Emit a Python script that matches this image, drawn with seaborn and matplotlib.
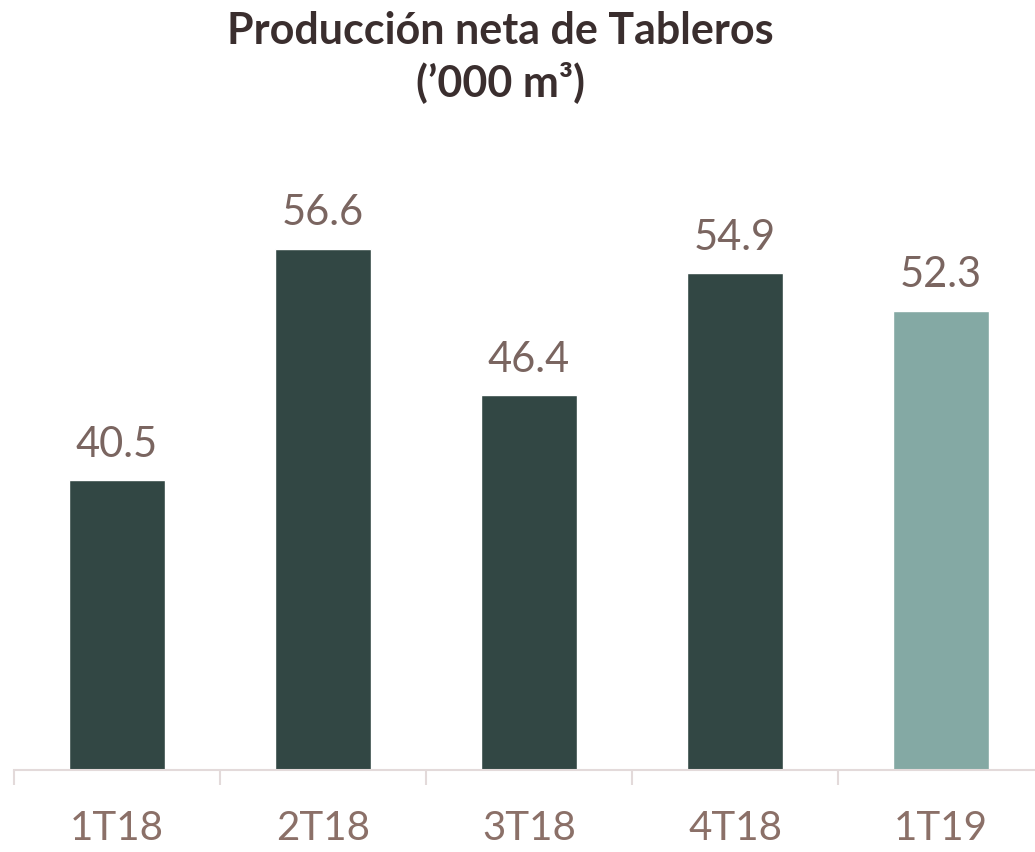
import matplotlib
matplotlib.use("Agg")
import matplotlib.pyplot as plt
import seaborn as sns
import pandas as pd

categories = ["1T18", "2T18", "3T18", "4T18", "1T19"]
values = [40.5, 56.6, 46.4, 54.9, 52.3]
bar_colors = ["#324744", "#324744", "#324744", "#324744", "#84a9a4"]
title = "Producción neta de Tableros\n(’000 m³)"

sns.set_theme(style="white")
plt.rcParams['font.family'] = ['Lato', 'DejaVu Sans']

df = pd.DataFrame({"cat": categories, "val": values})

fig = plt.figure(figsize=(10.35, 8.52), dpi=100)
W, H = 1035, 852
ax = fig.add_axes([14 / W, 82 / H, 1030 / W, (770 - 150) / H])

sns.barplot(data=df, x="cat", y="val", hue="cat", palette=bar_colors,
            legend=False, width=0.47, ax=ax, saturation=1)

ax.set_ylim(20.3, 20.3 + (770 - 150) / 14.35)
ax.set_xlim(-0.5, 4.5)

for i, v in enumerate(values):
    ax.annotate(f"{v:.1f}", (i, v), xytext=(0, 17), textcoords="offset points",
                ha="center", va="baseline", fontsize=30, color="#7a6560")

for s in ["top", "right", "left"]:
    ax.spines[s].set_visible(False)
ax.spines["bottom"].set_color("#e3dada")
ax.spines["bottom"].set_linewidth(1.5)
ax.set_yticks([])
ax.set_xlabel("")
ax.set_ylabel("")
ax.set_xticks(range(len(categories)))
ax.set_xticklabels(categories, fontsize=29, color="#8b7068")
ax.tick_params(axis="x", which="major", length=0, pad=29)
ax.set_xticks([i - 0.5 for i in range(len(categories) + 1)], minor=True)
ax.tick_params(axis="x", which="minor", length=11, width=1.5, color="#e3dada", direction="out", bottom=True)

fig.text(500 / W, 1 - 57 / H, title, ha="center", va="center", fontsize=31,
         fontweight="bold", color="#3a2e2e", linespacing=1.3)

fig.savefig("out.png", dpi=100)
